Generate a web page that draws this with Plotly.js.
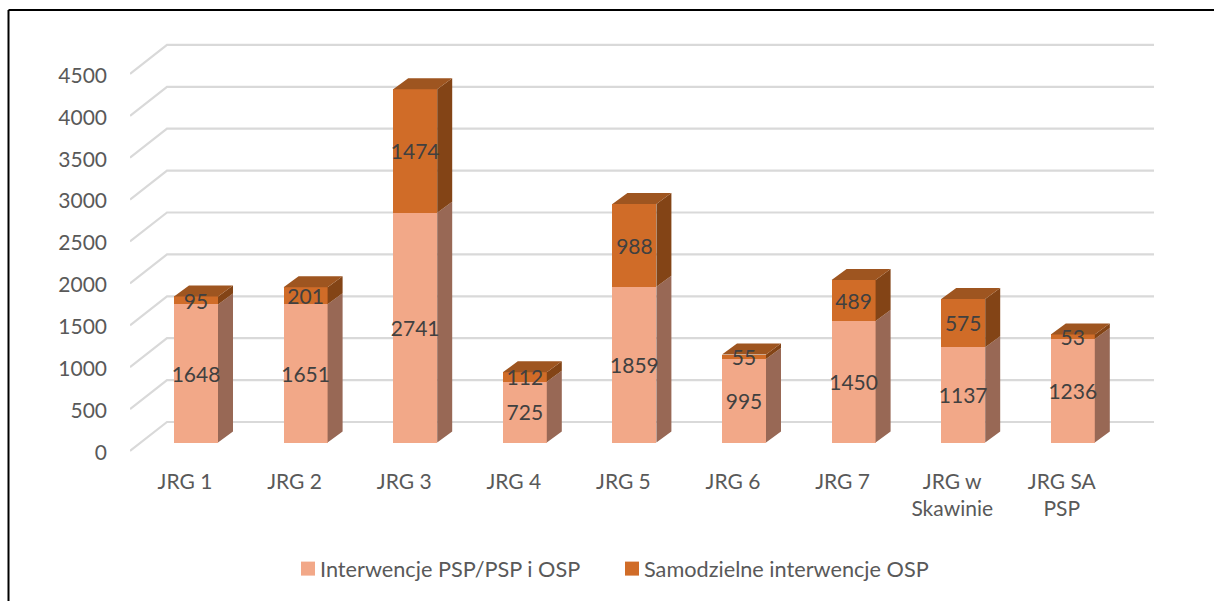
<!DOCTYPE html>
<html><head><meta charset="utf-8">
<script src="https://cdn.plot.ly/plotly-3.0.1.min.js"></script>
<style>html,body{margin:0;padding:0;background:#fff}#c{width:1214px;height:601px}</style>
</head><body><div id="c"></div>
<script>
const categories = ["JRG 1","JRG 2","JRG 3","JRG 4","JRG 5","JRG 6","JRG 7","JRG w<br>Skawinie","JRG SA<br>PSP"];
const interwencjePSP = [1648,1651,2741,725,1859,995,1450,1137,1236];
const samodzielneOSP = [95,201,1474,112,988,55,489,575,53];
const yTicks = [0,500,1000,1500,2000,2500,3000,3500,4000,4500];
const seriesNames = ["Interwencje PSP/PSP i OSP","Samodzielne interwencje OSP"];

const W=1214,H=601,L=130,R=1154,T=35,B=455;
const pxPerCat=109.6, pxPerVal=0.0838, x0px=196, y0px=442.5;
const xRange=[(L-x0px)/pxPerCat,(R-x0px)/pxPerCat];
const yRange=[(y0px-B)/pxPerVal,(y0px-T)/pxPerVal];
const dx=15/pxPerCat, dv=11/pxPerVal, half=22/pxPerCat, labelDrop=3/pxPerVal;
const xs=categories.map((_,i)=>i);
const font="Lato, 'Open Sans', sans-serif";

function sideFaces(lo,hi){
  const X=[],Y=[];
  xs.forEach((x,i)=>{X.push(x+half,x+half+dx,x+half+dx,x+half,x+half,null);
    Y.push(lo[i],lo[i]+dv,hi[i]+dv,hi[i],lo[i],null);});
  return {X,Y};
}
function topFaces(hi){
  const X=[],Y=[];
  xs.forEach((x,i)=>{X.push(x-half,x+half,x+half+dx,x-half+dx,x-half,null);
    Y.push(hi[i],hi[i],hi[i]+dv,hi[i]+dv,hi[i],null);});
  return {X,Y};
}
function poly(f,color){return {type:'scatter',mode:'lines',x:f.X,y:f.Y,fill:'toself',fillcolor:color,
  line:{width:0,color:color},showlegend:false,hoverinfo:'skip'};}

const zeros=xs.map(()=>0), totals=xs.map(i=>interwencjePSP[i]+samodzielneOSP[i]);
const labelFont={family:font,size:21,color:'#404040'};
const data=[
 {type:'bar',name:seriesNames[0],x:xs,y:interwencjePSP,width:2*half,marker:{color:'#F2A888',line:{width:0}},hoverinfo:'y+name'},
 {type:'bar',name:seriesNames[1],x:xs,y:samodzielneOSP,width:2*half,marker:{color:'#D06C28',line:{width:0}},hoverinfo:'y+name'},
 poly(sideFaces(zeros,interwencjePSP),'#986855'),
 poly(sideFaces(interwencjePSP,totals),'#834416'),
 poly(topFaces(totals),'#9E5520'),
 {type:'scatter',mode:'text',x:xs,y:interwencjePSP.map(v=>v/2-labelDrop),text:interwencjePSP.map(String),textposition:'middle center',textfont:labelFont,showlegend:false,hoverinfo:'skip'},
 {type:'scatter',mode:'text',x:xs,y:xs.map(i=>interwencjePSP[i]+samodzielneOSP[i]/2-labelDrop),text:samodzielneOSP.map(String),textposition:'middle center',textfont:labelFont,showlegend:false,hoverinfo:'skip'}
];

const gridFront=-8.5/pxPerVal, gridBack=20.5/pxPerVal, xBack=(167-x0px)/pxPerCat;
const grid={type:'path',layer:'below',xref:'x',yref:'y',line:{color:'#D9D9D9',width:2.2}};
const shapes=yTicks.map(v=>Object.assign({},grid,{
  path:`M${xRange[0]},${v+gridFront} L${xBack},${v+gridBack} L${xRange[1]},${v+gridBack}`}));
const px=x=>(x-L)/(R-L), py=y=>(B-y)/(B-T);
const border={type:'line',xref:'paper',yref:'paper',line:{color:'#000',width:2}};
shapes.push(Object.assign({},border,{x0:px(8.5),x1:px(W),y0:py(10),y1:py(10)}));
shapes.push(Object.assign({},border,{x0:px(8.5),x1:px(8.5),y0:py(10),y1:py(H)}));

const layout={
 width:W,height:H,paper_bgcolor:'#fff',plot_bgcolor:'rgba(0,0,0,0)',barmode:'stack',
 margin:{l:L,r:W-R,t:T,b:H-B,pad:0},font:{family:font,color:'#595959',size:21},
 xaxis:{type:'linear',range:xRange,tickmode:'array',tickvals:xs,ticktext:categories,showgrid:false,zeroline:false,showline:false,
   ticks:'',ticklabelshift:-11,ticklabelstandoff:12,tickfont:{family:font,size:21,color:'#595959'},automargin:false},
 yaxis:{range:yRange,tickmode:'array',tickvals:yTicks,ticktext:yTicks.map(String),showgrid:false,zeroline:false,showline:false,
   ticks:'',ticklabelshift:10,ticklabelstandoff:22,tickfont:{family:font,size:21,color:'#595959'},automargin:false},
 legend:{orientation:'h',xref:'container',yref:'container',x:288/W,xanchor:'left',y:1-548/H,yanchor:'top',
   entrywidth:279,entrywidthmode:'pixels',font:{family:font,size:21.7,color:'#595959'},bgcolor:'rgba(0,0,0,0)',traceorder:'normal'},
 shapes:shapes,showlegend:true,hovermode:'closest'
};
Plotly.newPlot('c',data,layout,{displayModeBar:false,responsive:false}).then(gd=>{
  gd.querySelectorAll('.legendtext').forEach(t=>t.setAttribute('x',parseFloat(t.getAttribute('x'))-8));
  gd.querySelectorAll('.legendpoints path').forEach(p=>p.setAttribute('d','M7,7H-7V-7H7Z'));
});
</script></body></html>
